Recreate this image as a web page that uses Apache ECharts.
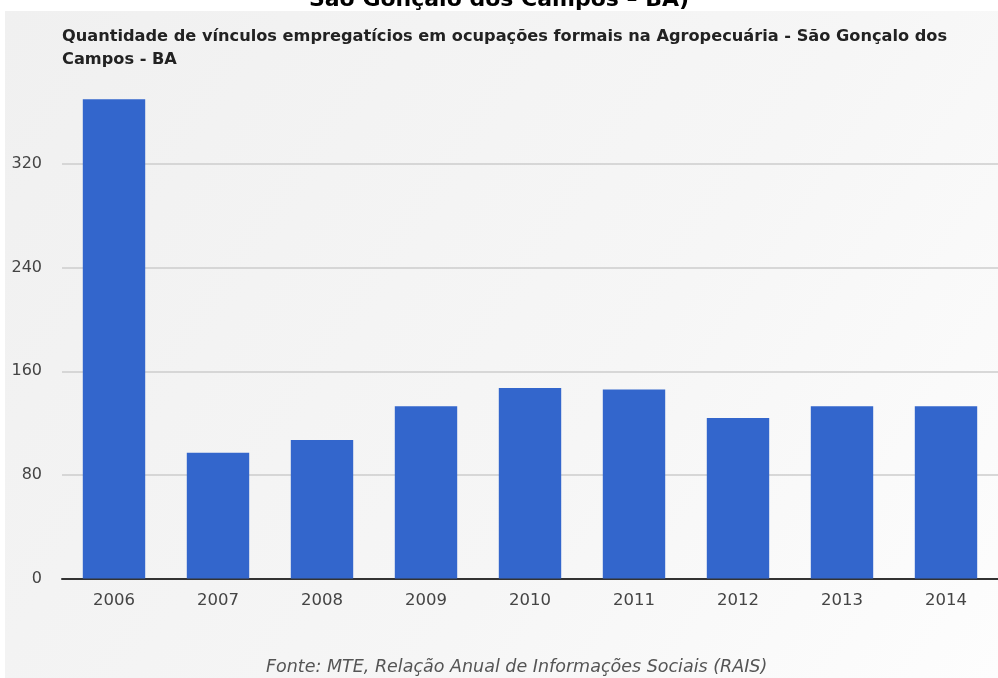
<!DOCTYPE html>
<html>
<head>
<meta charset="utf-8">
<script src="https://cdn.jsdelivr.net/npm/echarts@6/dist/echarts.min.js"></script>
<style>
html,body{margin:0;padding:0;background:#fff;}
#c{width:998px;height:678px;}
</style>
</head>
<body>
<div id="c"></div>
<script>
const categories = ['2006','2007','2008','2009','2010','2011','2012','2013','2014'];
const values = [370, 97, 107, 133, 147, 146, 124, 133, 133];
const yTicks = { min: 0, max: 380, interval: 80 };
const topTitle = 'São Gonçalo dos Campos – BA)';
const subTitle = 'Quantidade de vínculos empregatícios em ocupações formais na Agropecuária - São Gonçalo dos\nCampos - BA';
const source = 'Fonte: MTE, Relação Anual de Informações Sociais (RAIS)';

const chart = echarts.init(document.getElementById('c'), null, {renderer:'canvas'});
chart.setOption({
  animation: false,
  backgroundColor: '#fff',
  graphic: [
    { type:'rect', z:-10, silent:true,
      shape:{x:5, y:11, width:993, height:667},
      style:{ fill: new echarts.graphic.LinearGradient(0,0,1,1,[
        {offset:0,color:'#f0f0f0'},{offset:0.6,color:'#f6f6f6'},{offset:1,color:'#fdfdfd'}]) } },
    { type:'text', z:10, left:'center', top:-11,
      style:{ text: topTitle, font:'bold 22px "DejaVu Sans"', fill:'#000' } },
    { type:'text', z:10, left:266, top:658,
      style:{ text: source, font:'oblique 17.5px "DejaVu Sans"', fill:'#555' } }
  ],
  title: {
    text: subTitle,
    left: 57, top: 20,
    textStyle: { fontFamily:'DejaVu Sans', fontWeight:'bold', fontSize:16.2, color:'#222', lineHeight:23 }
  },
  grid: { left: 62, right: -7, top: 86.3, bottom: 99.5, containLabel:false },
  xAxis: {
    type:'category', data: categories,
    axisLine:{ lineStyle:{ color:'#333', width:2 } },
    axisTick:{ show:false },
    axisLabel:{ color:'#444', fontFamily:'DejaVu Sans', fontSize:16.5, margin:14 }
  },
  yAxis: {
    type:'value', min:yTicks.min, max:yTicks.max, interval:yTicks.interval,
    axisLine:{ show:false }, axisTick:{ show:false },
    axisLabel:{ color:'#444', fontFamily:'DejaVu Sans', fontSize:16, margin:20, showMaxLabel:false },
    splitLine:{ showMaxLine:false, lineStyle:{ color:'#cccccc', width:1.5 } }
  },
  series: [{
    type:'bar', data: values, barCategoryGap:'40%',
    itemStyle:{ color:'#3366cc' }
  }]
});
</script>
</body>
</html>
